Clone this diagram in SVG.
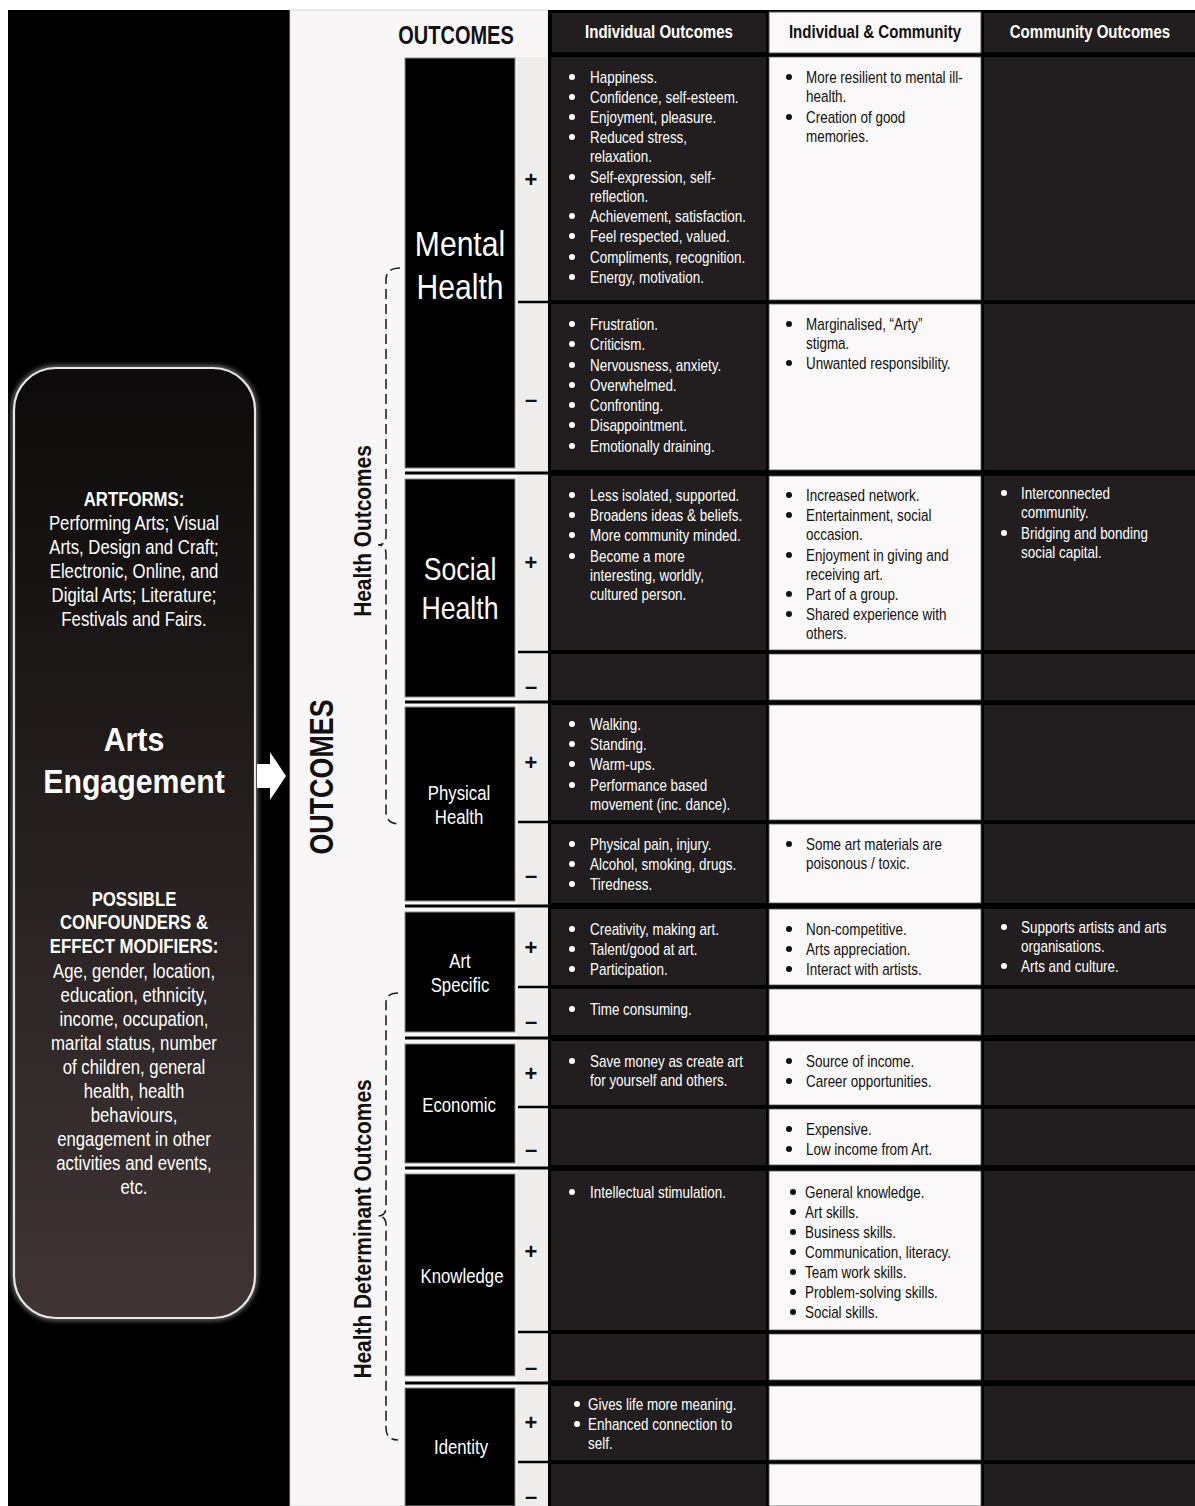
<svg xmlns="http://www.w3.org/2000/svg" width="1195" height="1506" viewBox="0 0 1195 1506">
<defs>
<style>
text{font-family:"Liberation Sans",Arial,sans-serif;}
.bw{font-size:16px;fill:#fff;}
.bk{font-size:16px;fill:#111;}
.lp{font-size:19.5px;fill:#fff;text-anchor:middle;}
.lpb{font-size:19.5px;fill:#fff;font-weight:bold;text-anchor:middle;}
.cat{fill:#fff;text-anchor:middle;}
.hd{font-size:17.5px;font-weight:bold;text-anchor:middle;}
.pm{font-size:22px;font-weight:bold;fill:#111;text-anchor:middle;}
.dk{fill:#221e1f;}
.lt{fill:#faf8f8;}
.box{fill:#000;stroke:#8c8c8c;stroke-width:1;}
.sep{stroke:#000;stroke-width:3;}
.div{stroke:#000;stroke-width:2.5;}
.brace{fill:none;stroke:#222;stroke-width:1.6;stroke-dasharray:10 5;}
.dw{fill:#fff;}
.dkb{fill:#111;}
</style>
<linearGradient id="gbox" x1="0" y1="0" x2="0" y2="1">
<stop offset="0" stop-color="#0c0a0a"/>
<stop offset="1" stop-color="#403536"/>
</linearGradient>
<filter id="glow" x="-10%" y="-10%" width="120%" height="120%">
<feGaussianBlur stdDeviation="2.5"/>
</filter>
</defs>
<rect x="0" y="0" width="1195" height="1506" fill="#fff"/>
<rect x="8" y="10" width="282" height="1496" fill="#000"/>
<rect x="290" y="10" width="258" height="1496" fill="#f8f6f6" stroke="#d0d0d0" stroke-width="0.8"/>
<rect x="548" y="10" width="647" height="1496" fill="#000"/>

<g id="artsEngagement">
<rect x="14" y="368" width="241" height="950" rx="42" fill="none" stroke="#fff" stroke-width="5" opacity="0.45" filter="url(#glow)"/>
<rect x="14" y="368" width="241" height="950" rx="42" fill="url(#gbox)" stroke="#e6e6e6" stroke-width="2.2"/>
<g transform="translate(134,0) scale(0.86,1)">
<text class="lpb" x="0" y="506">ARTFORMS:</text>
<text class="lp" x="0" y="530">Performing Arts; Visual</text>
<text class="lp" x="0" y="554">Arts, Design and Craft;</text>
<text class="lp" x="0" y="578">Electronic, Online, and</text>
<text class="lp" x="0" y="602">Digital Arts; Literature;</text>
<text class="lp" x="0" y="626">Festivals and Fairs.</text>
<text class="lpb" x="0" y="906">POSSIBLE</text>
<text class="lpb" x="0" y="929">CONFOUNDERS &amp;</text>
<text class="lpb" x="0" y="953">EFFECT MODIFIERS:</text>
<text class="lp" x="0" y="978">Age, gender, location,</text>
<text class="lp" x="0" y="1002">education, ethnicity,</text>
<text class="lp" x="0" y="1026">income, occupation,</text>
<text class="lp" x="0" y="1050">marital status, number</text>
<text class="lp" x="0" y="1074">of children, general</text>
<text class="lp" x="0" y="1098">health, health</text>
<text class="lp" x="0" y="1122">behaviours,</text>
<text class="lp" x="0" y="1146">engagement in other</text>
<text class="lp" x="0" y="1170">activities and events,</text>
<text class="lp" x="0" y="1194">etc.</text>
</g>
<g transform="translate(134,0) scale(0.89,1)">
<text x="0" y="751" font-size="34" font-weight="bold" fill="#fff" text-anchor="middle">Arts</text>
<text x="0" y="793" font-size="34" font-weight="bold" fill="#fff" text-anchor="middle">Engagement</text>
</g>
</g>

<g id="outcomesLabels">
<text transform="translate(333,777) rotate(-90) scale(0.79,1)" x="0" y="0" font-size="34" font-weight="bold" fill="#111" text-anchor="middle">OUTCOMES</text>
<text transform="translate(456,44) scale(0.8,1)" x="0" y="0" font-size="25" font-weight="bold" fill="#111" text-anchor="middle">OUTCOMES</text>
<text transform="translate(371,531) rotate(-90) scale(0.87,1)" x="0" y="0" font-size="24" font-weight="bold" fill="#111" text-anchor="middle">Health Outcomes</text>
<text transform="translate(371,1229) rotate(-90) scale(0.87,1)" x="0" y="0" font-size="24" font-weight="bold" fill="#111" text-anchor="middle">Health Determinant Outcomes</text>
</g>

<g id="headers">
<rect class="dk" x="552" y="13" width="214" height="39"/>
<rect x="769" y="12" width="212" height="41" fill="#faf8f8" stroke="#555" stroke-width="1"/>
<rect class="dk" x="984" y="13" width="211" height="39"/>
<g transform="translate(659,37.5) scale(0.86,1)"><text class="hd" fill="#fff" x="0" y="0">Individual Outcomes</text></g>
<g transform="translate(875,37.5) scale(0.86,1)"><text class="hd" fill="#111" x="0" y="0">Individual &amp; Community</text></g>
<g transform="translate(1090,37.5) scale(0.86,1)"><text class="hd" fill="#fff" x="0" y="0">Community Outcomes</text></g>
</g>

<g id="cells">
<g class="dk">
<rect x="551" y="57" width="215" height="243"/><rect x="984" y="57" width="211" height="243"/>
<rect x="551" y="304" width="215" height="166"/><rect x="984" y="304" width="211" height="166"/>
<rect x="551" y="476" width="215" height="174"/><rect x="984" y="476" width="211" height="174"/>
<rect x="551" y="654" width="215" height="46"/><rect x="984" y="654" width="211" height="46"/>
<rect x="551" y="705" width="215" height="115"/><rect x="984" y="705" width="211" height="115"/>
<rect x="551" y="824" width="215" height="79"/><rect x="984" y="824" width="211" height="79"/>
<rect x="551" y="909" width="215" height="76"/><rect x="984" y="909" width="211" height="76"/>
<rect x="551" y="989" width="215" height="46"/><rect x="984" y="989" width="211" height="46"/>
<rect x="551" y="1041" width="215" height="64"/><rect x="984" y="1041" width="211" height="64"/>
<rect x="551" y="1109" width="215" height="56"/><rect x="984" y="1109" width="211" height="56"/>
<rect x="551" y="1171" width="215" height="159"/><rect x="984" y="1171" width="211" height="159"/>
<rect x="551" y="1334" width="215" height="46"/><rect x="984" y="1334" width="211" height="46"/>
<rect x="551" y="1386" width="215" height="74"/><rect x="984" y="1386" width="211" height="74"/>
<rect x="551" y="1464" width="215" height="42"/><rect x="984" y="1464" width="211" height="42"/>
</g>
<g class="lt" stroke="#555" stroke-width="0.8">
<rect x="769" y="57" width="212" height="243"/>
<rect x="769" y="304" width="212" height="166"/>
<rect x="769" y="476" width="212" height="174"/>
<rect x="769" y="654" width="212" height="46"/>
<rect x="769" y="705" width="212" height="115"/>
<rect x="769" y="824" width="212" height="79"/>
<rect x="769" y="909" width="212" height="76"/>
<rect x="769" y="989" width="212" height="46"/>
<rect x="769" y="1041" width="212" height="64"/>
<rect x="769" y="1109" width="212" height="56"/>
<rect x="769" y="1171" width="212" height="159"/>
<rect x="769" y="1334" width="212" height="46"/>
<rect x="769" y="1386" width="212" height="74"/>
<rect x="769" y="1464" width="212" height="42"/>
</g>
<rect x="517" y="57" width="31" height="1449" fill="#efedeb"/>
</g>

<g id="rules">
<line class="sep" x1="405" y1="473" x2="548" y2="473"/>
<line class="sep" x1="405" y1="702" x2="548" y2="702"/>
<line class="sep" x1="405" y1="906" x2="548" y2="906"/>
<line class="sep" x1="405" y1="1038" x2="548" y2="1038"/>
<line class="sep" x1="405" y1="1168" x2="548" y2="1168"/>
<line class="sep" x1="405" y1="1383" x2="548" y2="1383"/>
<line class="div" x1="518" y1="302" x2="548" y2="302"/>
<line class="div" x1="518" y1="652" x2="548" y2="652"/>
<line class="div" x1="518" y1="822" x2="548" y2="822"/>
<line class="div" x1="518" y1="987" x2="548" y2="987"/>
<line class="div" x1="518" y1="1107" x2="548" y2="1107"/>
<line class="div" x1="518" y1="1332" x2="548" y2="1332"/>
<line class="div" x1="518" y1="1462" x2="548" y2="1462"/>
</g>

<g id="mentalHealth">
<rect class="box" x="405" y="58" width="110" height="410"/>
<g transform="translate(460,0) scale(0.86,1)">
<text class="cat" font-size="35" x="0" y="256">Mental</text>
<text class="cat" font-size="35" x="0" y="299">Health</text>
</g>
<text class="pm" x="531" y="187">+</text>
<text class="pm" x="531" y="407">–</text>
</g>
<g id="socialHealth">
<rect class="box" x="405" y="479" width="110" height="218"/>
<g transform="translate(460,0) scale(0.86,1)">
<text class="cat" font-size="31" x="0" y="580">Social</text>
<text class="cat" font-size="31" x="0" y="619">Health</text>
</g>
<text class="pm" x="531" y="570">+</text>
<text class="pm" x="531" y="694">–</text>
</g>
<g id="physicalHealth">
<rect class="box" x="405" y="707" width="110" height="194"/>
<g transform="translate(459,0) scale(0.86,1)">
<text class="cat" font-size="19.5" x="0" y="800">Physical</text>
<text class="cat" font-size="19.5" x="0" y="824">Health</text>
</g>
<text class="pm" x="531" y="770">+</text>
<text class="pm" x="531" y="883">–</text>
</g>
<g id="artSpecific">
<rect class="box" x="405" y="912" width="110" height="120"/>
<g transform="translate(460,0) scale(0.86,1)">
<text class="cat" font-size="19.5" x="0" y="968">Art</text>
<text class="cat" font-size="19.5" x="0" y="992">Specific</text>
</g>
<text class="pm" x="531" y="955">+</text>
<text class="pm" x="531" y="1029">–</text>
</g>
<g id="economic">
<rect class="box" x="405" y="1044" width="110" height="119"/>
<g transform="translate(459,0) scale(0.86,1)">
<text class="cat" font-size="19.5" x="0" y="1112">Economic</text>
</g>
<text class="pm" x="531" y="1081">+</text>
<text class="pm" x="531" y="1157">–</text>
</g>
<g id="knowledge">
<rect class="box" x="405" y="1174" width="110" height="202"/>
<g transform="translate(462,0) scale(0.86,1)">
<text class="cat" font-size="19.5" x="0" y="1283">Knowledge</text>
</g>
<text class="pm" x="531" y="1259">+</text>
<text class="pm" x="531" y="1375">–</text>
</g>
<g id="identity">
<rect class="box" x="405" y="1388" width="110" height="118"/>
<g transform="translate(461,0) scale(0.86,1)">
<text class="cat" font-size="19.5" x="0" y="1454">Identity</text>
</g>
<text class="pm" x="531" y="1430">+</text>
<text class="pm" x="531" y="1504">–</text>
</g>

<g id="bullets">
<g class="dw">
<circle cx="572" cy="77" r="3"/><circle cx="572" cy="97" r="3"/><circle cx="572" cy="117" r="3"/><circle cx="572" cy="137" r="3"/><circle cx="572" cy="177" r="3"/><circle cx="572" cy="216" r="3"/><circle cx="572" cy="236" r="3"/><circle cx="572" cy="257" r="3"/><circle cx="572" cy="277" r="3"/>
<circle cx="572" cy="324" r="3"/><circle cx="572" cy="344" r="3"/><circle cx="572" cy="365" r="3"/><circle cx="572" cy="385" r="3"/><circle cx="572" cy="405" r="3"/><circle cx="572" cy="425" r="3"/><circle cx="572" cy="446" r="3"/>
<circle cx="572" cy="495" r="3"/><circle cx="572" cy="515" r="3"/><circle cx="572" cy="535" r="3"/><circle cx="572" cy="556" r="3"/>
<circle cx="572" cy="724" r="3"/><circle cx="572" cy="744" r="3"/><circle cx="572" cy="764" r="3"/><circle cx="572" cy="785" r="3"/>
<circle cx="572" cy="844" r="3"/><circle cx="572" cy="864" r="3"/><circle cx="572" cy="884" r="3"/>
<circle cx="572" cy="929" r="3"/><circle cx="572" cy="949" r="3"/><circle cx="572" cy="969" r="3"/>
<circle cx="572" cy="1009" r="3"/><circle cx="572" cy="1061" r="3"/><circle cx="572" cy="1192" r="3"/>
<circle cx="577" cy="1404" r="3"/><circle cx="577" cy="1424" r="3"/>
<circle cx="1004" cy="493" r="3"/><circle cx="1004" cy="533" r="3"/><circle cx="1004" cy="927" r="3"/><circle cx="1004" cy="966" r="3"/>
</g>
<g class="dkb">
<circle cx="789" cy="77" r="3"/><circle cx="789" cy="117" r="3"/><circle cx="789" cy="324" r="3"/><circle cx="789" cy="363" r="3"/>
<circle cx="789" cy="495" r="3"/><circle cx="789" cy="515" r="3"/><circle cx="789" cy="555" r="3"/><circle cx="789" cy="594" r="3"/><circle cx="789" cy="614" r="3"/>
<circle cx="789" cy="844" r="3"/><circle cx="789" cy="929" r="3"/><circle cx="789" cy="949" r="3"/><circle cx="789" cy="969" r="3"/>
<circle cx="789" cy="1061" r="3"/><circle cx="789" cy="1081" r="3"/><circle cx="789" cy="1129" r="3"/><circle cx="789" cy="1149" r="3"/>
<circle cx="793" cy="1192" r="3"/><circle cx="793" cy="1212" r="3"/><circle cx="793" cy="1232" r="3"/><circle cx="793" cy="1252" r="3"/><circle cx="793" cy="1272" r="3"/><circle cx="793" cy="1292" r="3"/><circle cx="793" cy="1312" r="3"/>
</g>
</g>

<g id="cellText" transform="translate(0,1)">
<g transform="translate(590,0) scale(0.84,1)" class="bw">
<text x="0" y="82">Happiness.</text>
<text x="0" y="102">Confidence, self-esteem.</text>
<text x="0" y="122">Enjoyment, pleasure.</text>
<text x="0" y="142">Reduced stress,</text>
<text x="0" y="161">relaxation.</text>
<text x="0" y="182">Self-expression, self-</text>
<text x="0" y="201">reflection.</text>
<text x="0" y="221">Achievement, satisfaction.</text>
<text x="0" y="241">Feel respected, valued.</text>
<text x="0" y="262">Compliments, recognition.</text>
<text x="0" y="282">Energy, motivation.</text>
<text x="0" y="329">Frustration.</text>
<text x="0" y="349">Criticism.</text>
<text x="0" y="370">Nervousness, anxiety.</text>
<text x="0" y="390">Overwhelmed.</text>
<text x="0" y="410">Confronting.</text>
<text x="0" y="430">Disappointment.</text>
<text x="0" y="451">Emotionally draining.</text>
<text x="0" y="500">Less isolated, supported.</text>
<text x="0" y="520">Broadens ideas &amp; beliefs.</text>
<text x="0" y="540">More community minded.</text>
<text x="0" y="561">Become a more</text>
<text x="0" y="580">interesting, worldly,</text>
<text x="0" y="599">cultured person.</text>
<text x="0" y="729">Walking.</text>
<text x="0" y="749">Standing.</text>
<text x="0" y="769">Warm-ups.</text>
<text x="0" y="790">Performance based</text>
<text x="0" y="809">movement (inc. dance).</text>
<text x="0" y="849">Physical pain, injury.</text>
<text x="0" y="869">Alcohol, smoking, drugs.</text>
<text x="0" y="889">Tiredness.</text>
<text x="0" y="934">Creativity, making art.</text>
<text x="0" y="954">Talent/good at art.</text>
<text x="0" y="974">Participation.</text>
<text x="0" y="1014">Time consuming.</text>
<text x="0" y="1066">Save money as create art</text>
<text x="0" y="1085">for yourself and others.</text>
<text x="0" y="1197">Intellectual stimulation.</text>
</g>
<g transform="translate(588,0) scale(0.84,1)" class="bw">
<text x="0" y="1409">Gives life more meaning.</text>
<text x="0" y="1429">Enhanced connection to</text>
<text x="0" y="1448">self.</text>
</g>
<g transform="translate(806,0) scale(0.84,1)" class="bk">
<text x="0" y="82">More resilient to mental ill-</text>
<text x="0" y="101">health.</text>
<text x="0" y="122">Creation of good</text>
<text x="0" y="141">memories.</text>
<text x="0" y="329">Marginalised, “Arty”</text>
<text x="0" y="348">stigma.</text>
<text x="0" y="368">Unwanted responsibility.</text>
<text x="0" y="500">Increased network.</text>
<text x="0" y="520">Entertainment, social</text>
<text x="0" y="539">occasion.</text>
<text x="0" y="560">Enjoyment in giving and</text>
<text x="0" y="579">receiving art.</text>
<text x="0" y="599">Part of a group.</text>
<text x="0" y="619">Shared experience with</text>
<text x="0" y="638">others.</text>
<text x="0" y="849">Some art materials are</text>
<text x="0" y="868">poisonous / toxic.</text>
<text x="0" y="934">Non-competitive.</text>
<text x="0" y="954">Arts appreciation.</text>
<text x="0" y="974">Interact with artists.</text>
<text x="0" y="1066">Source of income.</text>
<text x="0" y="1086">Career opportunities.</text>
<text x="0" y="1134">Expensive.</text>
<text x="0" y="1154">Low income from Art.</text>
</g>
<g transform="translate(805,0) scale(0.84,1)" class="bk">
<text x="0" y="1197">General knowledge.</text>
<text x="0" y="1217">Art skills.</text>
<text x="0" y="1237">Business skills.</text>
<text x="0" y="1257">Communication, literacy.</text>
<text x="0" y="1277">Team work skills.</text>
<text x="0" y="1297">Problem-solving skills.</text>
<text x="0" y="1317">Social skills.</text>
</g>
<g transform="translate(1021,0) scale(0.84,1)" class="bw">
<text x="0" y="498">Interconnected</text>
<text x="0" y="517">community.</text>
<text x="0" y="538">Bridging and bonding</text>
<text x="0" y="557">social capital.</text>
<text x="0" y="932">Supports artists and arts</text>
<text x="0" y="951">organisations.</text>
<text x="0" y="971">Arts and culture.</text>
</g>
</g>

<g id="connectors">
<polygon points="257,764 270,764 270,752 286,776 270,800 270,788 257,788" fill="#fff"/>
<path class="brace" d="M400 268 Q386 268 386 280 L386 536 Q386 545 378 545 Q386 545 386 554 L386 812 Q386 824 400 824"/>
<path class="brace" d="M398 993 Q386 993 386 1003 L386 1207 Q386 1216 378 1216 Q386 1216 386 1225 L386 1428 Q386 1440 398 1440"/>
</g>
</svg>
